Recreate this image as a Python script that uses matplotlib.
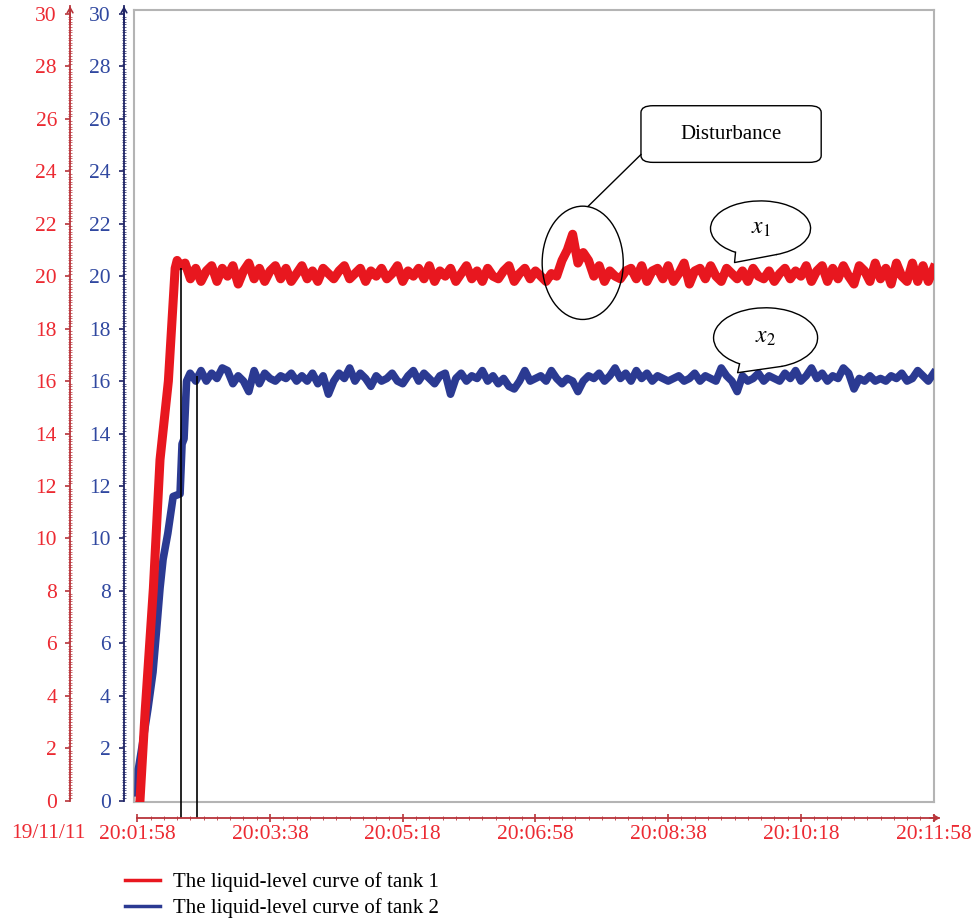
import numpy as np
import matplotlib
matplotlib.use("Agg")
import matplotlib.pyplot as plt
from matplotlib.patches import Ellipse, Arc, FancyBboxPatch
from matplotlib.transforms import offset_copy

plt.rcParams['font.family'] = ['Liberation Serif', 'DejaVu Serif']
plt.rcParams['mathtext.fontset'] = 'stix'

# seconds after 20:01:58 on 19/11/11
red_rise_t = [2.0, 5.9, 12.1, 17.1, 23.4, 28.5, 30.0]
red_rise_v = [0.0, 3.4, 8.1, 13.0, 16.0, 20.3, 20.6]
red_steady_v = [
    20.4, 20.5, 19.9, 20.3, 19.8, 20.2, 20.4, 19.8, 20.3, 20.0,
    20.4, 19.7, 20.2, 20.5, 19.9, 20.3, 19.8, 20.2, 20.4, 19.9,
    20.3, 19.8, 20.1, 20.4, 19.9, 20.2, 19.8, 20.3, 20.1, 19.9,
    20.2, 20.4, 19.9, 20.1, 20.3, 19.8, 20.2, 20.0, 20.3, 19.9,
    20.1, 20.4, 19.8, 20.2, 20.0, 20.3, 19.9, 20.4, 19.8, 20.2,
    20.0, 20.3, 19.8, 20.1, 20.4, 19.9, 20.2, 19.8, 20.3, 20.0,
    19.9, 20.2, 20.4, 19.8, 20.1, 20.3, 19.9, 20.2, 20.0, 19.8,
    20.1, 20.0, 20.6, 21.0, 21.6, 20.5, 20.9, 20.6, 20.0, 20.4,
    19.8, 20.2, 20.0, 19.9, 20.2, 20.3, 19.9, 20.4, 19.8, 20.2,
    20.3, 19.9, 20.4, 19.8, 20.1, 20.5, 19.7, 20.2, 20.3, 19.9,
    20.4, 20.0, 19.8, 20.3, 20.1, 19.9, 20.2, 19.8, 20.3, 20.0,
    19.9, 20.2, 19.8, 20.1, 20.3, 19.9, 20.2, 20.0, 20.4, 19.8,
    20.2, 20.4, 19.8, 20.3, 19.9, 20.4, 20.0, 19.7, 20.4, 20.2,
    19.8, 20.5, 19.9, 20.3, 19.7, 20.5, 20.0, 19.8, 20.5, 19.8,
    20.4, 19.8, 20.3,
]

blue_rise_t = [0.5, 0.8, 4.0, 8.0, 11.8, 14.5, 17.1, 19.4, 23.0, 27.0, 32.2, 33.7, 35.2, 37.1, 39.8]
blue_rise_v = [0.3, 1.2, 2.2, 3.5, 4.9, 6.5, 8.1, 9.2, 10.2, 11.6, 11.7, 13.6, 13.8, 16.0, 16.3]
blue_steady_v = [
    16.0, 16.4, 16.0, 16.3, 16.1, 16.5, 16.4, 15.9, 16.2, 16.0,
    15.6, 16.4, 15.9, 16.3, 16.1, 16.0, 16.2, 16.1, 16.3, 16.0,
    16.2, 16.0, 16.3, 15.9, 16.2, 15.5, 16.0, 16.3, 16.1, 16.5,
    16.0, 16.3, 16.1, 15.8, 16.2, 16.0, 16.1, 16.3, 16.0, 15.9,
    16.2, 16.4, 16.0, 16.3, 16.1, 15.9, 16.2, 16.3, 15.5, 16.1,
    16.3, 16.0, 16.2, 16.1, 16.4, 16.0, 16.2, 15.9, 16.1, 15.8,
    15.7, 16.0, 16.4, 16.0, 16.1, 16.2, 16.0, 16.4, 16.1, 15.9,
    16.1, 16.0, 15.6, 16.0, 16.2, 16.1, 16.3, 16.0, 16.2, 16.5,
    16.1, 16.3, 16.0, 16.4, 16.1, 16.3, 16.0, 16.2, 16.1, 16.0,
    16.1, 16.2, 16.0, 16.1, 16.3, 16.0, 16.2, 16.1, 16.0, 16.5,
    16.2, 16.0, 15.6, 16.2, 16.0, 16.1, 16.3, 16.0, 16.2, 16.1,
    16.0, 16.3, 16.1, 16.4, 16.0, 16.2, 16.5, 16.1, 16.3, 16.0,
    16.2, 16.1, 16.5, 16.3, 15.7, 16.1, 16.0, 16.2, 16.0, 16.1,
    16.0, 16.2, 16.1, 16.3, 16.0, 16.1, 16.4, 16.2, 16.0, 16.3,
]

tick_secs = [0, 100, 200, 300, 400, 500, 600]
tick_labels = ["20:01:58", "20:03:38", "20:05:18", "20:06:58",
               "20:08:38", "20:10:18", "20:11:58"]
date_label = "19/11/11"
series_labels = ["The liquid-level curve of tank 1",
                 "The liquid-level curve of tank 2"]
# settling markers: (time, level)
settle_marks = [(33.2, 20.3), (45.2, 16.2)]

red_t = np.concatenate([red_rise_t, np.arange(32, 601, 4)])
red_v = np.concatenate([red_rise_v, red_steady_v])
blue_t = np.concatenate([blue_rise_t, np.arange(44, 601, 4)])
blue_v = np.concatenate([blue_rise_v, blue_steady_v])

RED = '#e8171f'
BLUE = '#2b3a92'
RED_TXT = '#ec2a32'
BLUE_TXT = '#3048a0'
RED_AX = '#b8343a'
BLUE_AX = '#1f2466'
FS = 15.5

fig = plt.figure(figsize=(9.74, 9.23), dpi=100)
ax = fig.add_axes([134/974, 121/923, 800/974, 792/923])
xlim = (-2.5, 600.3)
ylim = (-0.05, 30.15)
ax.set_xlim(*xlim)
ax.set_ylim(*ylim)
for s in ax.spines.values():
    s.set_color('#b4b4b4')
    s.set_linewidth(1.5)

l2, = ax.plot(blue_t, blue_v, color=BLUE, lw=5.5, solid_joinstyle='round',
              label=series_labels[1], zorder=3)
l1, = ax.plot(red_t, red_v, color=RED, lw=6.5, solid_joinstyle='round',
              label=series_labels[0], zorder=4)

for t, top in settle_marks:
    ax.vlines(t, -0.65, top, color='black', lw=1.2, clip_on=False, zorder=5)


def side_axis(offset, color, txt):
    a = ax.twinx()
    a.set_ylim(*ylim)
    for name, s in a.spines.items():
        s.set_visible(name == 'left')
    a.spines['left'].set_position(('outward', offset))
    a.spines['left'].set_color(color)
    a.spines['left'].set_linewidth(1.3)
    a.spines['left'].set_bounds(0, 30.3)
    a.yaxis.tick_left()
    a.set_yticks(np.arange(0, 31, 2))
    a.set_yticks(np.arange(0, 30.05, 0.1), minor=True)
    a.tick_params(axis='y', which='major', direction='out', length=3.5,
                  width=1.2, color=color, labelcolor=txt, labelsize=FS, pad=6)
    a.tick_params(axis='y', which='minor', direction='inout', length=2.5,
                  width=0.5, color=color)
    tr = offset_copy(a.get_yaxis_transform(), fig=fig, x=-offset, units='points')
    a.annotate('', xy=(0, 30.4), xycoords=tr, xytext=(0, 29.5), textcoords=tr,
               arrowprops=dict(arrowstyle='->,head_length=0.35,head_width=0.2',
                               color=color, lw=1.2))
    return a


side_axis(46.0, RED_AX, RED_TXT)
side_axis(7.2, BLUE_AX, BLUE_TXT)

axx = ax.twiny()
axx.set_xlim(*xlim)
for name, s in axx.spines.items():
    s.set_visible(name == 'bottom')
axx.xaxis.tick_bottom()
axx.spines['bottom'].set_position(('outward', 11.5))
axx.spines['bottom'].set_color(RED_AX)
axx.spines['bottom'].set_linewidth(1.3)
axx.spines['bottom'].set_bounds(0, 604)
axx.set_xticks(tick_secs)
axx.set_xticklabels(tick_labels)
axx.set_xticks(np.arange(0, 601, 10), minor=True)
axx.tick_params(axis='x', which='major', direction='inout', length=6, width=1.2,
                color=RED_AX, labelcolor=RED_TXT, labelsize=FS, pad=2)
axx.tick_params(axis='x', which='minor', direction='inout', length=3, width=0.6,
                color=RED_AX)
trx = offset_copy(axx.get_xaxis_transform(), fig=fig, y=-11.5, units='points')
axx.annotate('', xy=(607, 0), xycoords=trx, xytext=(595, 0), textcoords=trx,
             arrowprops=dict(arrowstyle='->,head_length=0.35,head_width=0.2',
                             color=RED_AX, lw=1.2))
fig.text(48/974, 1 - 833/923, date_label, color=RED_TXT, fontsize=FS,
         ha='center', va='center')

# the twins switch the main axes ticks back on, so clear them afterwards
ax.tick_params(left=False, labelleft=False, right=False, labelright=False,
               bottom=False, labelbottom=False, top=False, labeltop=False)
ax.tick_params(which='minor', left=False, right=False, bottom=False, top=False)

# disturbance note
ax.add_patch(Ellipse((335.6, 20.51), 61.1, 4.32, fill=False, ec='black', lw=1.0, zorder=6))
ax.add_patch(FancyBboxPatch((379.5, 24.34), 135.8, 2.16,
                            boxstyle='round,pad=0,rounding_size=9',
                            mutation_aspect=0.0288, fill=False, ec='black',
                            lw=1.0, zorder=6))
ax.plot([379.5, 339.6], [24.64, 22.66], color='black', lw=1.0, zorder=6)
ax.text(447.4, 25.42, "Disturbance", fontsize=15, ha='center', va='center', zorder=6)


def bubble(cx, cy, w, h, tip, label, phi1=240, phi2=288):
    # Arc takes geometric angles; convert from the ellipse parameter
    def geo(phi):
        p = np.deg2rad(phi)
        return np.rad2deg(np.arctan2(h / w * np.sin(p), np.cos(p))) % 360
    ax.add_patch(Arc((cx, cy), w, h, theta1=geo(phi2), theta2=geo(phi1),
                     ec='black', lw=1.0, zorder=6))
    a1 = np.deg2rad(phi1)
    a2 = np.deg2rad(phi2)
    p1 = (cx + w / 2 * np.cos(a1), cy + h / 2 * np.sin(a1))
    p2 = (cx + w / 2 * np.cos(a2), cy + h / 2 * np.sin(a2))
    ax.plot([p1[0], tip[0], p2[0]], [p1[1], tip[1], p2[1]], color='black', lw=1.0, zorder=6)
    ax.text(cx, cy, label, fontsize=17, ha='center', va='center', zorder=6)


bubble(469.6, 21.82, 75.4, 2.10, (450.0, 20.52), r'$x_1$')
bubble(473.4, 17.65, 78.4, 2.29, (452.3, 16.32), r'$x_2$')

leg = fig.legend(handles=[l1, l2], loc='upper left', bbox_to_anchor=(125/974, 1 - 872/923),
                 frameon=False, fontsize=15, handlelength=1.7, handletextpad=0.6,
                 labelspacing=0.3, borderpad=0, borderaxespad=0)
for ln in leg.get_lines():
    ln.set_linewidth(2.5)

fig.savefig('out.png', dpi=100)
